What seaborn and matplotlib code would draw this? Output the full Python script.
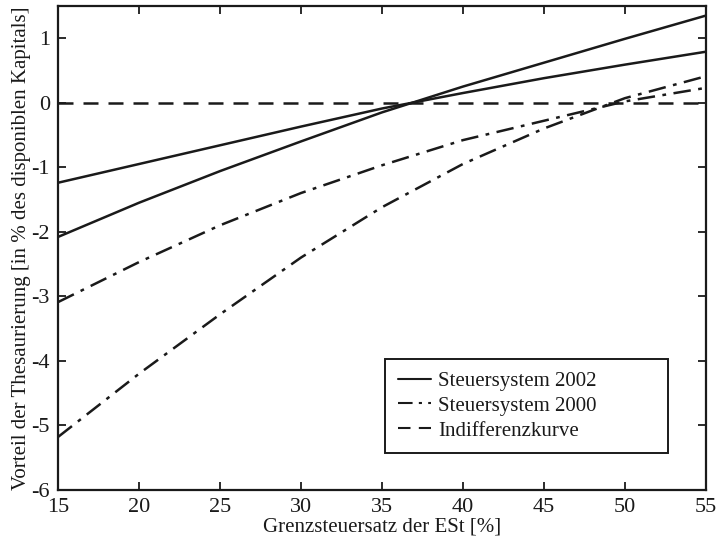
import numpy as np
import pandas as pd
import matplotlib
matplotlib.use("Agg")
import matplotlib.pyplot as plt
import seaborn as sns

# Grenzsteuersatz der ESt [%]
grenzsteuersatz = [15, 20, 25, 30, 35, 40, 45, 50, 55]

# Steuersystem 2002 (zwei Kurven)
st2002_a = [-1.24, -0.95, -0.66, -0.37, -0.09, 0.15, 0.38, 0.59, 0.79]
st2002_b = [-2.08, -1.55, -1.06, -0.60, -0.15, 0.25, 0.62, 0.99, 1.35]

# Steuersystem 2000 (zwei Kurven)
st2000_a = [-3.09, -2.47, -1.90, -1.40, -0.97, -0.58, -0.28, 0.02, 0.23]
st2000_b = [-5.18, -4.20, -3.28, -2.40, -1.62, -0.95, -0.40, 0.07, 0.41]

# Indifferenzkurve
indifferenz = [0, 0, 0, 0, 0, 0, 0, 0, 0]

df = pd.DataFrame({
    "x": grenzsteuersatz,
    "st2002_a": st2002_a,
    "st2002_b": st2002_b,
    "st2000_a": st2000_a,
    "st2000_b": st2000_b,
    "indiff": indifferenz,
})

sns.set_style("ticks")
plt.rcParams["font.family"] = ["Liberation Serif", "DejaVu Serif"]
plt.rcParams["axes.linewidth"] = 1.6
plt.rcParams["axes.unicode_minus"] = False

fig = plt.figure(figsize=(7.18, 5.40), dpi=100)
ax = fig.add_axes([0.081, 0.093, 0.902, 0.896])

col = "#1a1a1a"
lw = 1.8
sns.lineplot(data=df, x="x", y="st2002_a", ax=ax, color=col, lw=lw, label="Steuersystem 2002")
sns.lineplot(data=df, x="x", y="st2002_b", ax=ax, color=col, lw=lw, label="_nolegend_")
sns.lineplot(data=df, x="x", y="st2000_a", ax=ax, color=col, lw=lw, label="Steuersystem 2000")
sns.lineplot(data=df, x="x", y="st2000_b", ax=ax, color=col, lw=lw, label="_nolegend_")
sns.lineplot(data=df, x="x", y="indiff", ax=ax, color=col, lw=lw, label="Indifferenzkurve")

# Linienstile wie im Original
ax.lines[2].set_dashes([7, 3, 1.5, 3])
ax.lines[3].set_dashes([7, 3, 1.5, 3])
ax.lines[4].set_dashes([6, 4])

ax.set_xlim(15, 55)
ax.set_ylim(-6, 1.5)
ax.set_xticks(range(15, 56, 5))
ax.set_yticks(range(-6, 2))
ax.tick_params(direction="in", length=6, width=1.3, top=True, right=True,
               labelsize=16, pad=6, colors=col)
for s in ax.spines.values():
    s.set_color(col)

ax.set_xlabel("Grenzsteuersatz der ESt [%]", fontsize=15, labelpad=0, color=col)
ax.set_ylabel("Vorteil der Thesaurierung [in % des disponiblen Kapitals]", fontsize=15,
              labelpad=0, color=col)

leg = ax.legend(loc="lower left", bbox_to_anchor=(0.505, 0.076, 0.437, 0.203),
                mode="expand", fontsize=15, handlelength=1.6, handletextpad=0.35,
                borderaxespad=0, fancybox=False, framealpha=1, borderpad=0.6,
                labelspacing=0.25, labelcolor=col)
leg.get_frame().set_edgecolor(col)
leg.get_frame().set_linewidth(1.4)
for h in leg.get_lines():
    h.set_linewidth(1.5)

fig.savefig("out.png", dpi=100)
